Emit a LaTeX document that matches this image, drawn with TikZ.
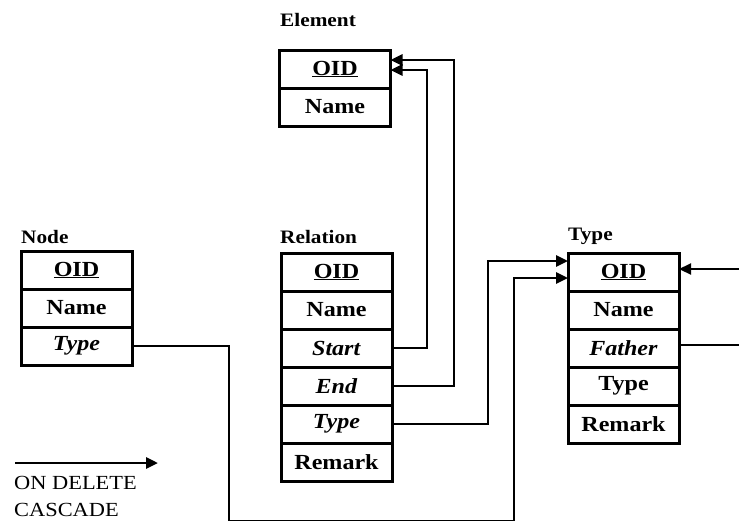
\documentclass[tikz,border=0pt]{standalone}
\usepackage{fontspec}
\setmainfont[FakeStretch=1.12]{Liberation Serif}
\usetikzlibrary{arrows.meta}
\begin{document}
\begin{tikzpicture}[x=1pt,y=-1pt,
  field/.style={draw,line width=3pt,minimum width=111pt,minimum height=38pt,
    inner sep=0pt,outer sep=0pt,anchor=north,
    font=\fontsize{21.5}{23}\selectfont\bfseries},
  tabletitle/.style={anchor=west,inner sep=0pt,
    font=\fontsize{19}{21}\selectfont\bfseries},
  legendtext/.style={anchor=west,inner sep=0pt,
    font=\fontsize{20}{22}\selectfont},
  link/.style={line width=2.8pt},
  fk/.style={link,-{Triangle[length=12pt,width=11pt]}}]
\useasboundingbox (0,0) rectangle (739,520);

% Element table
\node[tabletitle] (elt) at (280,20) {Element};
\node[field] (eo) at (335,50) {\underline{OID}};
\node[field] (en) at (eo.south) {Name};

% Node table
\node[tabletitle] (ndt) at (21,237) {Node};
\node[field] (no) at (76.5,251) {\underline{OID}};
\node[field] (nn) at (no.south) {Name};
\node[field] (nt) at (nn.south) {\textit{Type}};

% Relation table
\node[tabletitle] (rlt) at (280,237) {Relation};
\node[field] (ro) at (336.5,253) {\underline{OID}};
\node[field] (rn) at (ro.south) {Name};
\node[field] (rs) at (rn.south) {\textit{Start}};
\node[field] (re) at (rs.south) {\textit{End}};
\node[field] (rt) at (re.south) {\textit{Type}};
\node[field] (rr) at (rt.south) {Remark};

% Type table
\node[tabletitle] (tyt) at (568,236) {Type};
\node[field] (to) at (623.5,253) {\underline{OID}};
\node[field] (tn) at (to.south) {Name};
\node[field] (tf) at (tn.south) {\textit{Father}};
\node[field] (tt) at (tf.south) {Type};
\node[field] (tr) at (tt.south) {Remark};

% Relation -> Element
\draw[fk] (rs.east) -- ++(35,0) |- ([yshift=-1pt]eo.east);
\draw[fk] (re.east) -- ++(62,0) |- ([yshift=9pt]eo.east);

% Relation -> Type
\draw[fk] (rt.east) -- ++(96,0) |- ([yshift=11pt]to.west);

% Node -> Type, routed along the lower edge
\coordinate (c1) at (229,521.2);
\coordinate (c2) at (514,521.2);
\draw[fk] (nt.east) -| (c1) -- (c2) |- ([yshift=-6pt]to.west);

% Type -> Type (Father), leaving on the right
\coordinate (ext1) at (739,269);
\coordinate (ext2) at (739,345);
\draw[link,line width=2.2pt] ([yshift=3pt]tf.east) -- (ext2);
\draw[fk,line width=2.2pt] (ext1) -- ([yshift=3pt]to.east);

% Legend
\coordinate (la) at (15,463);
\coordinate (lb) at (158,463);
\draw[fk] (la) -- (lb);
\node[legendtext] (l1) at (14,483) {ON DELETE};
\node[legendtext] (l2) at (14,510) {CASCADE};
\end{tikzpicture}
\end{document}
